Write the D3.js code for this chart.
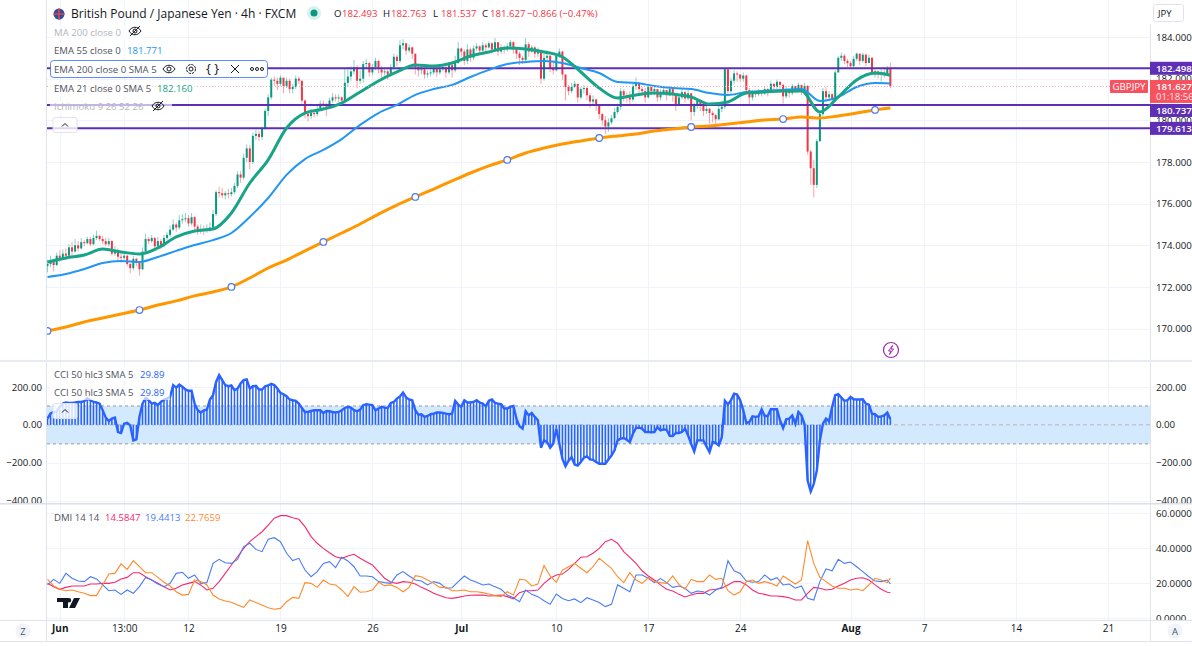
<!DOCTYPE html>
<html>
<head>
<meta charset="utf-8">
<title>GBPJPY 4h</title>
<script src="https://cdn.jsdelivr.net/npm/d3@7"></script>
<style>
html, body { margin: 0; padding: 0; background: #fff; overflow: hidden; }
svg { display: block; font-family: "Open Sans", sans-serif; }
.domain { display: none; }
</style>
</head>
<body>
<div id="chart"></div>
<script>
// ---- data ----
var symbolTitle = "British Pound / Japanese Yen · 4h · FXCM";
var ohlcLabels = ["O", "H", "L", "C"];
var ohlcValues = ["182.493", "182.763", "181.537", "181.627"];
var changeLabel = "−0.866 (−0.47%)";

// candle closes, one per 4h bar (open is the close before)
var firstOpen = 173.0;
var closes = [
  173.10,173.20,173.05,173.50,173.40,173.60,173.50,173.90,173.70,174.00,
  173.85,174.15,174.10,174.30,174.05,174.35,174.45,174.30,174.20,174.05,
  174.20,173.60,173.75,173.45,173.40,173.50,173.10,172.90,173.35,173.20,
  172.85,173.70,174.30,174.20,174.35,173.95,174.20,174.00,174.35,174.50,
  174.75,175.00,174.85,175.20,175.25,175.30,175.05,175.35,174.90,174.70,
  174.75,174.70,174.80,174.85,175.50,176.55,176.50,176.40,176.50,176.45,
  176.55,176.85,177.40,177.25,178.20,178.65,178.00,179.25,179.35,179.20,
  179.60,180.45,181.10,181.95,181.90,181.75,182.05,181.65,181.90,181.50,
  181.60,182.00,181.90,180.95,180.30,180.20,180.35,180.30,180.55,180.80,
  180.70,180.65,180.95,181.10,181.05,181.10,180.95,181.80,182.10,182.35,
  182.55,181.90,182.00,182.70,182.75,182.30,182.55,182.85,182.45,182.30,
  182.35,182.20,182.55,183.05,182.85,183.60,183.70,183.35,183.50,183.20,
  182.55,182.40,182.45,182.20,182.25,182.30,182.50,182.30,182.45,182.55,
  182.30,182.65,182.40,182.75,183.45,183.30,182.85,183.40,183.00,183.45,
  183.55,183.35,183.60,183.50,183.70,183.40,183.75,183.30,183.50,183.40,
  183.55,183.75,183.40,183.20,183.00,182.90,183.65,183.30,183.50,183.20,
  183.30,182.00,183.00,183.10,182.50,182.40,183.10,183.30,182.20,181.60,
  181.40,181.60,181.75,181.10,181.50,181.55,181.20,180.90,181.00,180.70,
  180.30,180.00,179.70,179.90,180.10,180.40,180.65,181.40,181.20,181.10,
  181.00,181.65,181.80,181.50,181.40,181.10,181.60,181.40,181.50,181.10,
  181.35,181.45,181.20,181.50,181.30,180.75,181.10,181.35,181.05,181.30,
  180.40,180.70,180.95,180.70,180.45,180.55,180.35,180.25,180.05,180.55,
  180.65,182.45,181.40,181.90,182.25,182.20,182.00,182.15,181.45,181.10,
  181.35,181.25,181.40,181.30,181.50,181.35,181.75,181.60,181.85,181.70,
  181.15,181.50,181.30,181.65,181.50,181.70,181.40,181.65,178.50,177.70,
  176.90,179.00,180.30,181.40,181.10,181.25,181.00,182.30,183.00,183.10,
  182.85,182.75,182.60,182.95,183.20,182.85,183.15,182.75,183.00,182.20,
  182.35,182.20,182.30,182.25,182.49,181.627
];
var highs = [
  173.3,173.5,173.35,173.65,173.75,173.8,173.85,174.05,174.15,174.3,
  174.2,174.35,174.25,174.4,174.4,174.5,174.7,174.5,174.45,174.35,
  174.35,174.25,173.95,173.85,173.6,173.65,173.55,173.15,173.5,173.4,
  173.25,173.9,174.55,174.4,174.5,174.4,174.4,174.3,174.5,174.65,
  174.95,175.25,175.1,175.45,175.5,175.55,175.45,175.55,175.4,175.0,
  175.0,174.95,175.0,175.1,175.7,176.65,176.8,176.75,176.6,176.7,
  176.75,177.0,177.55,177.55,178.4,178.85,178.8,179.4,179.55,179.5,
  179.7,180.55,181.25,182.05,182.1,182.05,182.15,182.0,182.05,182.0,
  181.75,182.15,182.1,181.9,181.0,180.45,180.55,180.5,180.7,180.95,
  180.95,180.85,181.1,181.3,181.25,181.25,181.15,182.5,182.55,182.6,
  182.9,182.65,182.4,182.85,182.95,182.8,182.7,183.0,182.9,182.6,
  182.5,182.45,182.7,183.2,183.15,183.85,183.9,183.7,183.65,183.55,
  182.85,182.6,182.6,182.5,182.4,182.45,182.65,182.5,182.55,182.7,
  182.6,182.8,182.7,183.1,183.75,183.5,183.4,183.65,183.5,183.6,
  183.7,183.6,183.75,183.7,183.8,183.75,183.95,183.75,183.65,183.6,
  183.7,183.85,183.8,183.5,183.3,183.1,183.95,183.75,183.6,183.55,
  183.5,183.4,183.2,183.35,183.15,182.8,183.2,183.45,183.35,182.2,
  181.7,181.8,181.9,181.75,181.6,181.7,181.6,181.3,181.2,181.05,
  180.75,180.35,180.2,180.1,180.25,180.6,180.8,181.55,181.5,181.3,
  181.4,181.75,182.05,181.85,181.6,181.55,181.75,181.6,181.7,181.5,
  181.5,181.6,181.45,181.65,181.55,181.3,181.25,181.5,181.4,181.45,
  181.3,180.85,181.05,181.0,180.75,180.7,180.6,180.45,180.3,180.7,
  180.85,182.5,182.5,182.05,182.4,182.35,182.2,182.3,182.2,181.55,
  181.45,181.4,181.5,181.45,181.6,181.55,181.9,181.8,181.95,181.85,
  181.75,181.65,181.45,181.75,181.65,181.8,181.7,181.8,181.7,178.6,
  178.1,179.1,180.4,181.55,181.6,181.4,181.3,182.4,183.1,183.25,
  183.2,182.95,182.85,183.1,183.25,183.2,183.25,183.2,183.15,183.05,
  182.45,182.4,182.45,182.55,182.6,182.763
];
var lows = [
  172.7,172.95,172.75,173.0,173.2,173.35,173.3,173.45,173.5,173.65,
  173.7,173.8,173.95,174.05,173.95,174.0,174.25,174.2,174.05,173.95,
  173.95,173.5,173.5,173.25,173.15,173.3,173.0,172.65,172.8,173.0,
  172.55,172.8,173.6,174.05,174.1,173.75,173.9,173.85,173.9,174.25,
  174.4,174.7,174.65,174.75,175.05,175.1,174.9,174.95,174.75,174.5,
  174.55,174.5,174.6,174.65,174.75,175.4,176.3,176.25,176.2,176.25,
  176.35,176.45,176.75,177.0,177.15,178.0,177.65,177.9,179.05,179.0,
  179.05,179.55,180.2,181.0,181.65,181.45,181.65,181.3,181.55,181.3,
  181.3,181.5,181.75,180.8,180.1,179.95,180.05,180.15,180.2,180.45,
  180.5,180.2,180.55,180.85,180.9,180.85,180.7,180.8,181.6,181.9,
  182.2,181.55,181.75,181.8,182.5,182.1,182.15,182.4,182.25,182.05,
  182.15,181.95,182.15,182.4,182.6,182.75,183.4,183.15,183.25,182.95,
  182.2,182.1,182.2,182.0,182.05,182.1,182.2,182.1,182.2,182.35,
  182.05,182.2,182.05,182.3,182.7,183.05,182.65,182.7,182.8,182.9,
  183.35,183.15,183.3,183.3,183.45,183.2,183.35,183.1,183.2,183.2,
  183.3,183.5,183.2,182.95,182.65,182.7,182.75,183.05,183.25,183.0,
  183.05,181.75,181.9,182.8,182.3,182.2,182.35,183.0,181.95,180.95,
  181.2,181.3,181.55,180.85,181.0,181.3,180.95,180.6,180.75,180.45,
  180.05,179.75,179.35,179.45,179.8,180.05,180.3,180.5,180.9,180.85,
  180.75,180.9,181.45,181.3,181.2,180.85,181.05,181.2,181.2,180.9,
  180.95,181.2,180.95,181.15,180.9,180.45,180.7,181.0,180.85,180.95,
  180.0,180.2,180.55,180.45,180.2,180.3,179.85,179.9,179.8,180.0,
  180.4,180.55,181.25,181.25,181.75,181.85,181.85,181.85,181.25,180.7,
  180.95,181.1,181.15,181.15,181.2,181.15,181.3,181.45,181.5,181.5,
  180.8,181.05,181.1,181.2,181.3,181.35,181.2,181.3,178.35,176.9,
  176.3,176.75,178.95,180.2,180.9,180.95,180.75,181.0,182.3,182.85,
  182.7,182.55,182.5,182.55,182.85,182.65,182.75,182.6,182.75,182.15,
  182.05,182.0,181.85,182.05,182.15,181.537
];

// moving averages, read every 6 bars (last point is the last bar)
var maBars = [0,6,12,18,24,30,36,42,48,54,60,66,72,78,84,90,96,102,108,114,120,126,132,138,144,150,156,162,168,174,180,186,192,198,204,210,216,222,228,234,240,246,252,258,264,270,275];
var ema21 = [173.2,173.39,173.53,173.82,173.68,173.58,173.87,174.4,174.69,174.78,175.55,176.99,178.1,179.63,180.35,180.54,180.83,181.36,181.89,182.32,182.66,182.61,182.75,183.09,183.28,183.47,183.42,183.28,183.04,182.32,181.55,181.07,181.22,181.31,181.26,181.12,180.78,180.88,181.31,181.36,181.41,181.41,180.4,181.12,181.94,182.27,182.16];
var ema55 = [172.48,172.62,172.86,173.15,173.25,173.2,173.44,173.73,174.01,174.25,174.59,175.36,176.27,177.38,178.14,178.58,179.1,179.78,180.35,180.74,181.22,181.5,181.7,182.08,182.42,182.7,182.8,182.85,182.75,182.51,182.27,181.84,181.79,181.65,181.55,181.5,181.31,181.22,181.36,181.41,181.46,181.5,180.93,181.12,181.6,181.79,181.771];
var ema200 = [169.89,170.08,170.32,170.51,170.7,170.89,171.13,171.33,171.57,171.76,172.0,172.43,172.91,173.29,173.73,174.16,174.59,175.02,175.5,175.93,176.32,176.7,177.09,177.47,177.81,178.1,178.43,178.67,178.86,179.01,179.15,179.25,179.34,179.49,179.58,179.68,179.73,179.82,179.92,180.02,180.06,180.16,180.11,180.21,180.35,180.5,180.59];

// horizontal drawn levels
var levels = [182.498, 180.737, 179.613];
var lastPrice = 181.627;
var countdown = "01:18:56";

// CCI, one per bar
var cci = [
  33,60,68,70,95,112,118,116,116,118,
  121,121,125,139,130,121,118,112,77,38,
  20,33,38,-38,-43,6,11,-3,-82,-77,
  42,112,142,130,112,116,104,121,134,139,
  148,210,197,213,201,187,180,180,112,77,
  65,77,80,134,157,227,263,236,210,204,
  208,183,192,219,236,240,192,204,206,187,
  187,204,208,217,210,192,169,162,151,134,
  130,127,112,89,68,68,73,77,77,77,
  63,73,72,68,65,68,77,89,95,91,
  77,72,80,104,109,107,104,77,86,95,
  91,89,116,121,139,150,171,145,134,130,
  77,54,56,42,47,56,59,65,65,63,
  59,56,59,127,107,95,130,118,118,121,
  130,118,112,98,127,134,116,112,109,86,
  86,95,100,33,-8,-20,72,50,63,42,
  24,-121,-82,-91,-121,-100,-20,-100,-180,-219,
  -189,-171,-210,-215,-197,-174,-167,-183,-185,-197,
  -206,-206,-206,-183,-162,-135,-82,-73,-70,-79,
  -91,-47,-17,-15,-20,-38,-38,-40,-38,-12,
  -29,-24,-26,-58,-59,-43,-43,-38,-20,-56,
  -100,-141,-82,-82,-82,-114,-144,-91,-95,-109,
  -65,127,107,130,165,160,130,77,10,15,
  45,42,45,82,47,47,82,82,82,24,
  -17,29,33,50,6,68,50,3,-295,-353,
  -312,-242,-82,6,33,19,95,157,162,144,
  127,130,148,135,134,134,135,112,107,59,
  56,42,45,50,65,29.89
];
var cciLabel = "CCI 50 hlc3 SMA 5";
var cciValue = "29.89";

// DMI, read every 2 bars (last point is the last bar)
var dmiBars = d3.range(0, 276, 2).concat([275]);
var adx = [
  19.8,17.9,16.4,17.5,18.3,18.3,18.3,19.4,19.4,19.8,
  19.8,20.4,22.3,23.2,25.9,25.9,23.6,21.7,19.8,17.9,
  16,17,18.9,19.8,20.8,18.9,16,17,20.8,25.5,
  30.3,35,39.8,43.6,46.5,49.3,53.1,57,58.5,58.5,
  57.3,56.4,52.2,46.5,42.7,39.8,37.3,35,34.1,35.4,
  36.4,34.1,32.2,30.3,26.5,22.7,20.4,19.8,20.8,20.4,
  19.4,17.5,16,14.1,12.8,11.6,11.2,
  11.8,12.6,13,13.1,13.1,12.6,12.8,13.1,12.2,11,
  14.5,15.6,15.6,16,19.8,22.7,24.6,25.1,27.8,31.2,
  34.7,35,37,39.8,43.6,45,42.7,37.9,34.7,31.2,
  27,24,21.7,18.9,16.4,15.4,13.5,12,13.1,14.1,
  14.1,16,16.4,17,18.9,20.8,20.8,18.9,16,14.1,
  13.5,12.6,12.6,12.2,11.6,10.3,10.3,14.1,17.5,17,
  16,16.4,18.3,19.8,21.7,22.7,23,21.7,18.9,16.4,
  14.7,14.5847
];
var plusDi = [
  18.9,22.1,19.8,25.5,22.7,21.1,20.8,23.6,22.3,18.9,
  15.6,16,13.5,16,14.1,17.9,23.2,21.7,19.4,17.9,
  19.8,25.5,26.1,22.7,24.6,19.8,20.2,31.2,33.5,31.6,
  31.2,33.5,40.8,42.7,39.2,37.9,45,45.9,43.6,37,
  32.8,34.1,27.4,23.6,26.5,31.2,32.2,28.8,34.7,32.6,
  29.3,24,24,23.6,20.8,20.2,19.8,24.6,26.5,24,
  21.7,21.1,18.9,20.8,19.8,17,17.3,
  20.8,24,21.7,20.4,18.9,19.4,17.9,16.4,13.1,11.6,
  9.3,16,13.5,12.2,9.9,7.8,13.7,11.2,9.9,10.9,
  8.8,11.6,10.3,8.8,6.5,7.8,18.9,17,15,24.6,
  24.6,22.7,20.2,22.5,20.2,17.5,18.3,17,14.1,15.4,
  15,13.1,16,17.5,32.8,27,25.5,21.1,20.4,20.8,
  24.6,21.7,23,18.9,19.4,17,18.3,11.2,10.3,20.8,
  28,27,33.5,31.2,32,29.3,26.5,23.6,21.1,20.8,
  21.7,19.4413
];
var minusDi = [
  22.1,18.3,16.4,15.6,16,15,14.1,12.8,12.8,18.9,
  25.1,25.5,30.9,27.8,32.8,29.3,25.9,25.9,23.2,20.4,
  18.3,15,13.1,13.5,21.7,20.8,18.9,13.1,10.9,9.7,
  9,7.4,6.1,10.3,8.8,7.4,5.9,5,5.5,9.3,
  11.8,11.2,20.2,19.8,17.5,21.7,19.4,18.9,16,12.2,
  17.9,14.7,15,16,20.4,18.5,18.9,17.5,15,17.5,
  24.2,23.6,21.7,19.8,17.5,17.5,15.6,
  15.6,16,15,15,14.5,13.7,12.8,12.2,15,13.1,
  22.1,21.7,18.3,19.4,29.9,24,20.4,27.4,29.3,31.2,
  28.4,25.9,29.3,34.1,31.2,28.4,23.6,20.2,25.9,21.7,
  19.8,23,20.8,20.2,19.8,24,19.2,16.4,22.1,20.8,
  20.8,24.6,22.1,22.7,15.6,13.1,15,20.8,21.7,19.8,
  20.8,19.8,18.3,24,21.7,19.4,21.7,44.2,31.2,23.2,
  20.8,18.3,17,17,16,16.6,15.6,18.9,22.7,21.7,
  20.2,22.7659
];

// axis ticks
var priceTicks = [184, 182, 180, 178, 176, 174, 172, 170];
var cciTicks = [200, 0, -200, -400];
var dmiTicks = [60, 40, 20, 0];
var timeBars = [4, 25, 46, 76, 106, 135, 166, 196, 226, 262, 286, 316, 346];
var timeLabels = ["Jun", "13:00", "12", "19", "26", "Jul", "10", "17", "24", "Aug", "7", "14", "21"];
var boldLabels = ["Jun", "Jul", "Aug"];

// ---- layout and colours ----
var w = 1192, h = 646;
var left = 47, right = 1150;
var upColor = "#089981", downColor = "#f23645", gridColor = "#f0f3fa", lineColor = "#e0e3eb";
var purple = "#5e2fb4", textColor = "#131722", legendColor = "#50535e", mutedColor = "#b2b5be";
var baseFont = 9.6, axisFont = 9.7;

var x = d3.scaleLinear().domain([0, 346]).range([47.5, 1108]);
var yPrice = d3.scaleLinear().domain([170, 184]).range([328.6, 37]);
var yCci = d3.scaleLinear().domain([-400, 200]).range([500.5, 387]);
var yDmi = d3.scaleLinear().domain([0, 60]).range([618, 513]);

var svg = d3.select("#chart").append("svg").attr("width", w).attr("height", h);
var defs = svg.append("defs");
function addClip(id, y0, y1, x0, x1) {
  defs.append("clipPath").attr("id", id).append("rect")
    .attr("x", x0).attr("y", y0).attr("width", x1 - x0).attr("height", y1 - y0);
}
addClip("clipPrice", 0, 360, left, right);
addClip("clipCci", 362, 503, left, right);
addClip("clipDmi", 505, 620, left, right);
addClip("clipPriceAxis", 24, 360, right, w);
addClip("clipCciAxis", 362, 503, right, w);
addClip("clipDmiAxis", 505, 620, right, w);
addClip("clipCciLeft", 362, 503, 0, 46);

// grid
var grid = svg.append("g").attr("stroke", gridColor).attr("stroke-width", 1);
grid.selectAll("line.v").data(timeBars).enter().append("line").attr("class", "v")
  .attr("x1", function (d) { return Math.round(x(d)) + 0.5; })
  .attr("x2", function (d) { return Math.round(x(d)) + 0.5; })
  .attr("y1", 0).attr("y2", 620);
function hGrid(ticks, scale) {
  grid.selectAll(null).data(ticks).enter().append("line")
    .attr("x1", left).attr("x2", right)
    .attr("y1", function (d) { return Math.round(scale(d)) + 0.5; })
    .attr("y2", function (d) { return Math.round(scale(d)) + 0.5; });
}
hGrid(priceTicks, yPrice);
hGrid(cciTicks, yCci);
hGrid(dmiTicks, yDmi);

// ---- price pane ----
var price = svg.append("g").attr("clip-path", "url(#clipPrice)");

// last price dotted line
svg.append("line")
  .attr("x1", left).attr("x2", 1110)
  .attr("y1", yPrice(lastPrice)).attr("y2", yPrice(lastPrice))
  .attr("stroke", "#f7a6ac").attr("stroke-width", 1).attr("stroke-dasharray", "1 2");

function barOpen(i) { return i === 0 ? firstOpen : closes[i - 1]; }

price.selectAll("line.wick").data(closes).enter().append("line").attr("class", "wick")
  .attr("x1", function (d, i) { return x(i); })
  .attr("x2", function (d, i) { return x(i); })
  .attr("y1", function (d, i) { return yPrice(highs[i]); })
  .attr("y2", function (d, i) { return yPrice(lows[i]); })
  .attr("stroke-width", 1).attr("opacity", 0.45)
  .attr("stroke", function (d, i) { return d >= barOpen(i) ? upColor : downColor; });

price.selectAll("rect.body").data(closes).enter().append("rect").attr("class", "body")
  .attr("x", function (d, i) { return x(i) - 1; })
  .attr("width", 2)
  .attr("y", function (d, i) { return yPrice(Math.max(d, barOpen(i))); })
  .attr("height", function (d, i) { return Math.max(1, Math.abs(yPrice(d) - yPrice(barOpen(i)))); })
  .attr("fill", function (d, i) { return d >= barOpen(i) ? upColor : downColor; });

// drawn levels
price.selectAll("line.level").data(levels).enter().append("line").attr("class", "level")
  .attr("x1", left).attr("x2", right)
  .attr("y1", function (d) { return yPrice(d); })
  .attr("y2", function (d) { return yPrice(d); })
  .attr("stroke", purple).attr("stroke-width", 2);

var maLine = d3.line()
  .x(function (d, i) { return x(maBars[i]); })
  .y(function (d) { return yPrice(d); })
  .curve(d3.curveMonotoneX);

price.append("path").attr("d", maLine(ema55)).attr("fill", "none").attr("stroke", "#2196f3").attr("stroke-width", 2);
price.append("path").attr("d", maLine(ema21)).attr("fill", "none").attr("stroke", "#17a488").attr("stroke-width", 3);
price.append("path").attr("d", maLine(ema200)).attr("fill", "none").attr("stroke", "#ff9800").attr("stroke-width", 3);

// selection handles on the EMA 200, every 30 bars
price.selectAll("circle.handle")
  .data(ema200.filter(function (d, i) { return i % 5 === 0 && i < 46; }))
  .enter().append("circle").attr("class", "handle")
  .attr("cx", function (d, i) { return x(maBars[i * 5]); })
  .attr("cy", function (d) { return yPrice(d); })
  .attr("r", 3.3).attr("fill", "#fff").attr("stroke", "#4f78f2").attr("stroke-width", 1.2);

// ---- CCI pane ----
var cciPane = svg.append("g").attr("clip-path", "url(#clipCci)");
cciPane.append("rect")
  .attr("x", left).attr("width", right - left)
  .attr("y", yCci(100)).attr("height", yCci(-100) - yCci(100))
  .attr("fill", "#d3e9fd");
[100, -100].forEach(function (v) {
  cciPane.append("line").attr("x1", left).attr("x2", right)
    .attr("y1", yCci(v)).attr("y2", yCci(v))
    .attr("stroke", "#b2b5be").attr("stroke-width", 1.5).attr("stroke-dasharray", "3 3");
});
cciPane.append("line").attr("x1", left).attr("x2", right)
  .attr("y1", yCci(0)).attr("y2", yCci(0))
  .attr("stroke", "#b2b5be").attr("stroke-width", 1).attr("stroke-dasharray", "4 3");

cciPane.selectAll("rect.hist").data(cci).enter().append("rect").attr("class", "hist")
  .attr("x", function (d, i) { return x(i) - 0.75; })
  .attr("width", 1.5)
  .attr("y", function (d) { return Math.min(yCci(d), yCci(0)); })
  .attr("height", function (d) { return Math.abs(yCci(d) - yCci(0)); })
  .attr("fill", "#2962ff");

cciPane.append("path")
  .datum(cci)
  .attr("d", d3.line().x(function (d, i) { return x(i); }).y(function (d) { return yCci(d); }))
  .attr("fill", "none").attr("stroke", "#2962ff").attr("stroke-width", 2.4);

// ---- DMI pane ----
var dmiPane = svg.append("g").attr("clip-path", "url(#clipDmi)");
var dmiLine = d3.line()
  .x(function (d, i) { return x(dmiBars[i]); })
  .y(function (d) { return yDmi(d); });
[[adx, "#f7296b"], [plusDi, "#4a7bf7"], [minusDi, "#ff8a2b"]].forEach(function (s) {
  dmiPane.append("path").attr("d", dmiLine(s[0]))
    .attr("fill", "none").attr("stroke", s[1]).attr("stroke-width", 1.1);
});

// TradingView logo
svg.append("path")
  .attr("d", "M57 598h11v10h-5v-6h-6zM74 598h6l-5 10h-6zM69 598a2.2 2.2 0 1 1 0 4.4a2.2 2.2 0 1 1 0-4.4z")
  .attr("fill", "#131722");

// ---- axis frame ----
var frame = svg.append("g").attr("stroke", lineColor).attr("stroke-width", 1);
frame.append("line").attr("x1", 46.5).attr("x2", 46.5).attr("y1", 0).attr("y2", 641);
frame.append("line").attr("x1", 1150.5).attr("x2", 1150.5).attr("y1", 24).attr("y2", 641);
frame.append("line").attr("x1", 0).attr("x2", w).attr("y1", 641.5).attr("y2", 641.5);
frame.append("line").attr("x1", 0).attr("x2", w).attr("y1", 620.5).attr("y2", 620.5);
svg.append("rect").attr("x", 0).attr("y", 360).attr("width", w).attr("height", 2).attr("fill", "#e9ebf3");
svg.append("rect").attr("x", 0).attr("y", 503).attr("width", w).attr("height", 1.5).attr("fill", "#dcdfe9");

// ---- axes ----
function styleAxis(g) {
  g.selectAll("text").attr("fill", textColor).attr("font-size", axisFont).attr("font-family", '"Open Sans", sans-serif');
  g.selectAll("line").remove();
}
svg.append("g").attr("clip-path", "url(#clipPriceAxis)").append("g").attr("transform", "translate(1150,0)")
  .call(d3.axisRight(yPrice).tickValues(priceTicks).tickSize(0).tickPadding(6)
    .tickFormat(function (d) { return d.toFixed(3); }))
  .call(styleAxis);
svg.append("g").attr("clip-path", "url(#clipCciAxis)").append("g").attr("transform", "translate(1150,0)")
  .call(d3.axisRight(yCci).tickValues(cciTicks).tickSize(0).tickPadding(6)
    .tickFormat(function (d) { return d.toFixed(2).replace("-", "\u2212"); }))
  .call(styleAxis);
svg.append("g").attr("clip-path", "url(#clipDmiAxis)").append("g").attr("transform", "translate(1150,0)")
  .call(d3.axisRight(yDmi).tickValues(dmiTicks).tickSize(0).tickPadding(6)
    .tickFormat(function (d) { return d.toFixed(4); }))
  .call(styleAxis);
// the same axis on the left of the CCI pane
svg.append("g").attr("clip-path", "url(#clipCciLeft)").append("g").attr("transform", "translate(42,0)")
  .call(d3.axisLeft(yCci).tickValues(cciTicks).tickSize(0).tickPadding(0)
    .tickFormat(function (d) { return d.toFixed(2).replace("-", "\u2212"); }))
  .call(styleAxis);

svg.append("g").attr("transform", "translate(0,621)")
  .call(d3.axisBottom(x).tickValues(timeBars).tickSize(0).tickPadding(4)
    .tickFormat(function (d, i) { return timeLabels[i]; }))
  .call(styleAxis)
  .selectAll("text")
  .attr("font-size", 10)
  .attr("font-weight", function (d, i) { return boldLabels.indexOf(timeLabels[i]) >= 0 ? 700 : 400; });

// ---- price tags on the right ----
// the middle tag is pushed down so it clears the last price tag
function tagY(d, i) { return yPrice(d) + (i === 1 ? 5.5 : 0); }

var tags = svg.append("g");
tags.append("rect").attr("x", 1150).attr("width", 42).attr("y", yPrice(lastPrice) - 6.5).attr("height", 23).attr("fill", "#f7525f");
tags.append("text").attr("x", 1156).attr("y", yPrice(lastPrice) + 3.5).attr("fill", "#fff").attr("font-size", axisFont).attr("font-weight", 600).text(lastPrice.toFixed(3));
tags.append("text").attr("x", 1156).attr("y", yPrice(lastPrice) + 14).attr("fill", "#fde3e5").attr("font-size", 9.5).text(countdown);
tags.append("rect").attr("x", 1110).attr("width", 38).attr("y", yPrice(lastPrice) - 6.5).attr("height", 13).attr("rx", 1).attr("fill", "#f7525f");
tags.append("text").attr("x", 1129).attr("y", yPrice(lastPrice) + 3.5).attr("text-anchor", "middle").attr("fill", "#fff").attr("font-size", axisFont).text("GBPJPY");

tags.selectAll("rect.tag").data(levels).enter().append("rect").attr("class", "tag")
  .attr("x", 1150).attr("width", 42)
  .attr("y", function (d, i) { return tagY(d, i) - 6.5; })
  .attr("height", 13).attr("fill", purple);
tags.selectAll("text.tag").data(levels).enter().append("text").attr("class", "tag")
  .attr("x", 1156).attr("y", function (d, i) { return tagY(d, i) + 3.5; })
  .attr("fill", "#fff").attr("font-size", axisFont).attr("font-weight", 600)
  .text(function (d) { return d.toFixed(3); });

// ---- legend ----
function txt(g, s, px, py, color, size, weight) {
  return g.append("text").attr("x", px).attr("y", py).attr("fill", color)
    .attr("font-size", size || baseFont).attr("font-weight", weight || 400).text(s);
}
function eye(g, cx, cy, crossed) {
  var e = g.append("g").attr("transform", "translate(" + cx + "," + cy + ")")
    .attr("fill", "none").attr("stroke", "#131722").attr("stroke-width", 1);
  e.append("path").attr("d", "M-6 0C-3-5 3-5 6 0C3 5-3 5-6 0z");
  e.append("circle").attr("r", 2);
  if (crossed) e.append("path").attr("d", "M-5 5L5-5");
}

var legend = svg.append("g");
// translucent row backgrounds let the marks show through faintly
[[50, 25, 95, 15], [50, 43, 125, 15], [50, 81, 145, 15], [50, 99, 122, 15]].forEach(function (r) {
  legend.append("rect").attr("x", r[0]).attr("y", r[1]).attr("width", r[2]).attr("height", r[3])
    .attr("fill", "#fff").attr("opacity", 0.65);
});

// flag
legend.append("circle").attr("cx", 59).attr("cy", 14).attr("r", 5.5).attr("fill", "#2a4f9c");
legend.append("path").attr("d", "M53.5 14h11M59 8.5v11").attr("stroke", "#e2434b").attr("stroke-width", 1.6);
txt(legend, symbolTitle, 71, 17.5, textColor, 12);
legend.append("circle").attr("cx", 314).attr("cy", 13).attr("r", 7).attr("fill", "#d9f0ec");
legend.append("circle").attr("cx", 314).attr("cy", 13).attr("r", 3.5).attr("fill", upColor);

var ohlcX = [334, 383, 433, 482];
ohlcLabels.forEach(function (l, i) {
  txt(legend, l, ohlcX[i], 17, textColor);
  txt(legend, ohlcValues[i], ohlcX[i] + 8, 17, downColor);
});
txt(legend, changeLabel, 527, 17, downColor);

txt(legend, "MA 200 close 0", 54, 36, mutedColor);
eye(legend, 135, 31, true);
txt(legend, "EMA 55 close 0", 54, 54, legendColor);
txt(legend, "181.771", 127, 54, "#2196f3");
legend.append("rect").attr("x", 50.5).attr("y", 60.5).attr("width", 217).attr("height", 17).attr("rx", 3)
  .attr("fill", "#fff").attr("stroke", "#2962ff").attr("stroke-width", 1).attr("stroke-opacity", 0.75);
txt(legend, "EMA 200 close 0 SMA 5", 54, 73, legendColor);
eye(legend, 169, 69, false);
legend.append("circle").attr("cx", 191).attr("cy", 69).attr("r", 2).attr("fill", "none").attr("stroke", textColor);
legend.append("circle").attr("cx", 191).attr("cy", 69).attr("r", 4.5).attr("fill", "none").attr("stroke", textColor).attr("stroke-dasharray", "2.5 1");
txt(legend, "{ }", 206, 73, textColor, 13);
legend.append("path").attr("d", "M231 65L239 73M239 65L231 73").attr("stroke", textColor).attr("fill", "none");
[252, 257, 262].forEach(function (c) {
  legend.append("circle").attr("cx", c).attr("cy", 69).attr("r", 1.5).attr("fill", "none").attr("stroke", textColor);
});
txt(legend, "EMA 21 close 0 SMA 5", 54, 92, legendColor);
txt(legend, "182.160", 157, 92, "#17a488");
txt(legend, "Ichimoku 9 26 52 26", 54, 110, mutedColor);
eye(legend, 158, 106, true);

function collapseButton(cx, cy) {
  legend.append("rect").attr("x", cx - 12).attr("y", cy - 7.5).attr("width", 24).attr("height", 15).attr("rx", 2)
    .attr("fill", "#fff").attr("fill-opacity", 0.8).attr("stroke", "#e0e3eb");
  legend.append("path").attr("d", "M" + (cx - 3) + " " + (cy + 1.5) + "l3-3l3 3").attr("fill", "none").attr("stroke", textColor);
}
collapseButton(65, 125);

// CCI legend
[[50, 366, 120, 15], [50, 385, 120, 15]].forEach(function (r) {
  legend.append("rect").attr("x", r[0]).attr("y", r[1]).attr("width", r[2]).attr("height", r[3])
    .attr("fill", "#fff").attr("opacity", 0.65);
});
[378, 396].forEach(function (py) {
  txt(legend, cciLabel, 54, py, legendColor);
  txt(legend, cciValue, 140, py, "#2962ff");
});
collapseButton(65, 411);

// DMI legend
txt(legend, "DMI 14 14", 54, 521, legendColor);
txt(legend, "14.5847", 105, 521, "#f7296b");
txt(legend, "19.4413", 145, 521, "#4a7bf7");
txt(legend, "22.7659", 185, 521, "#ff8a2b");

// top right currency button
legend.append("rect").attr("x", 1153.5).attr("y", 4.5).attr("width", 30).attr("height", 17).attr("rx", 2)
  .attr("fill", "#fff").attr("stroke", "#e0e3eb");
txt(legend, "JPY", 1158, 17, textColor, 9.5);

// corner buttons
legend.append("circle").attr("cx", 23).attr("cy", 631).attr("r", 7.5).attr("fill", "#f0f3fa");
legend.append("text").attr("x", 23).attr("y", 634.5).attr("text-anchor", "middle").attr("fill", legendColor).attr("font-size", 9.5).text("Z");
legend.append("circle").attr("cx", 1175).attr("cy", 631).attr("r", 7.5).attr("fill", "#f0f3fa");
legend.append("text").attr("x", 1175).attr("y", 634.5).attr("text-anchor", "middle").attr("fill", legendColor).attr("font-size", 9.5).text("A");

// bolt badge
legend.append("circle").attr("cx", 891).attr("cy", 350).attr("r", 7.5).attr("fill", "#fff").attr("stroke", "#9c27b0").attr("stroke-width", 1.2);
legend.append("path").attr("d", "M892.5 345.5L888.5 351H891L889.5 354.5L893.5 349H891z").attr("fill", "none").attr("stroke", "#9c27b0");
</script>
</body>
</html>
